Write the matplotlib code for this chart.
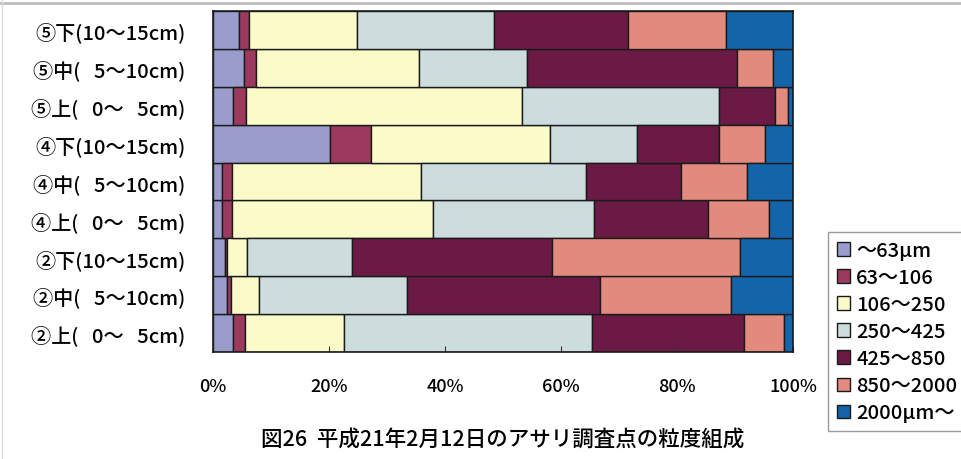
import matplotlib.pyplot as plt
from matplotlib.lines import Line2D

plt.rcParams['font.family'] = ['Noto Sans CJK JP', 'DejaVu Sans']
plt.rcParams['font.weight'] = 'medium'

# sampling layers, listed bottom to top
layers = ['②上(   0～   5cm)', '②中(   5～10cm)', '②下(10～15cm)',
          '④上(   0～   5cm)', '④中(   5～10cm)', '④下(10～15cm)',
          '⑤上(   0～   5cm)', '⑤中(   5～10cm)', '⑤下(10～15cm)']

# grain size fractions (%) for each layer
sz_0_63 = [3.5, 2.4, 2.1, 1.5, 1.5, 20.1, 3.5, 5.4, 4.4]
sz_63_106 = [2.0, 0.7, 0.3, 1.7, 1.7, 7.2, 2.2, 2.0, 1.8]
sz_106_250 = [17.0, 4.9, 3.4, 34.7, 32.7, 30.8, 47.6, 28.2, 18.7]
sz_250_425 = [42.9, 25.4, 18.2, 27.8, 28.4, 15.0, 33.9, 18.6, 23.6]
sz_425_850 = [26.1, 33.4, 34.5, 19.6, 16.4, 14.2, 9.7, 36.2, 23.0]
sz_850_2000 = [7.0, 22.5, 32.4, 10.6, 11.3, 7.8, 2.3, 6.1, 17.0]
sz_2000_up = [1.5, 10.7, 9.1, 4.1, 8.0, 4.9, 0.8, 3.5, 11.5]

series = [sz_0_63, sz_63_106, sz_106_250, sz_250_425,
          sz_425_850, sz_850_2000, sz_2000_up]
names = ['～63μm', '63～106', '106～250', '250～425',
         '425～850', '850～2000', '2000μm～']
colors = ['#9a9ccc', '#9b3a5c', '#fbfbca', '#cddcdc',
          '#6a1a44', '#e38a7e', '#1464aa']

fig = plt.figure(figsize=(9.61, 4.6), dpi=100)
ax = fig.add_axes([213 / 961, 1 - 353 / 460, 580 / 961, 341 / 460])

left = [0.0] * len(layers)
for vals, name, col in zip(series, names, colors):
    ax.barh(range(len(layers)), vals, left=left, height=1.0, color=col,
            edgecolor='#1a1a1a', linewidth=1.0, label=name)
    left = [a + b for a, b in zip(left, vals)]

ax.set_xlim(0, 100)
ax.set_ylim(-0.5, len(layers) - 0.5)
ax.set_xticks(range(0, 101, 20))
ax.set_xticklabels([f'{v}%' for v in range(0, 101, 20)], fontsize=13)
ax.set_yticks(range(len(layers)))
ax.set_yticklabels(layers, fontsize=14.5)
ax.tick_params(axis='x', direction='in', length=4, pad=18, color='#333333')
ax.tick_params(axis='y', length=0, pad=20)
for sp in ax.spines.values():
    sp.set_color('#1a1a1a')
    sp.set_linewidth(1.2)

ax.legend(loc='upper left', bbox_to_anchor=(828 / 961, 1 - 233 / 460),
          bbox_transform=fig.transFigure, fontsize=14.5, frameon=True,
          fancybox=False, edgecolor='#9a9a9a', framealpha=1,
          handlelength=0.65, handleheight=0.65, handletextpad=0.3,
          labelspacing=0.4, borderpad=0.45, borderaxespad=0)

fig.text(503 / 961, 1 - 440 / 460,
         '図26  平成21年2月12日のアサリ調査点の粒度組成',
         ha='center', va='center', fontsize=15.5)

# thin grey frame lines along the top and left edges
fig.add_artist(Line2D([0, 1], [1 - 4 / 460] * 2, color='#bdbdbd', lw=2,
                      transform=fig.transFigure))
fig.add_artist(Line2D([2 / 961] * 2, [0, 1], color='#dddddd', lw=1,
                      transform=fig.transFigure))

fig.savefig('out.png', dpi=100)
